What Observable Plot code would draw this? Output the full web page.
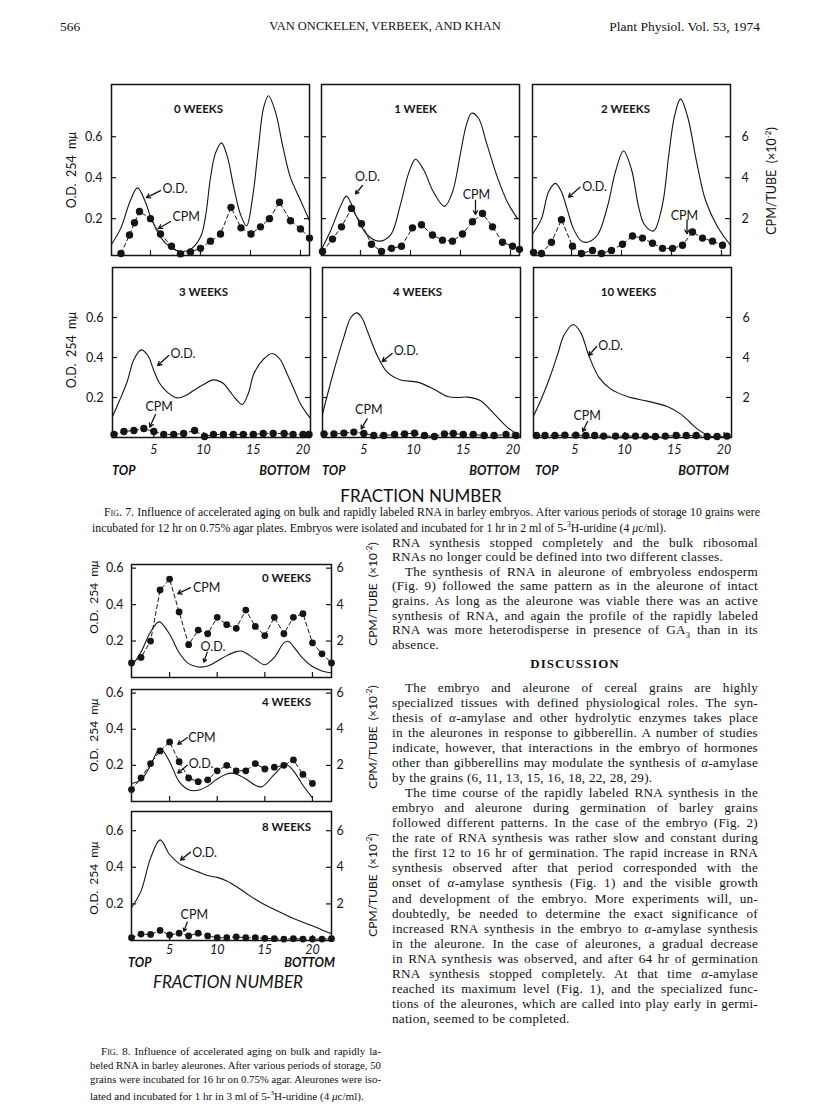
<!DOCTYPE html>
<html><head><meta charset="utf-8">
<script src="https://cdn.jsdelivr.net/npm/d3@7"></script>
<script src="https://cdn.jsdelivr.net/npm/@observablehq/plot@0.6"></script>
<style>
html,body{margin:0;padding:0;background:#fff;}
#page{position:relative;width:816px;height:1105px;overflow:hidden;background:#fff;color:#111;}
.abs{position:absolute;white-space:nowrap;}
.serif{font-family:"Liberation Serif","Times New Roman",serif;}
.body{letter-spacing:0.25px;}
.fig{font-family:Lato,"DejaVu Sans",sans-serif;}
.sc{font-variant:small-caps;}
</style></head><body><div id="page"></div><script>
// ================= DATA =================
// Fig. 7 (embryos) — O.D. 254 curves (fraction, O.D.) and CPM/tube (×10^-2) points
const f7Titles = ["0 WEEKS", "1 WEEK", "2 WEEKS", "3 WEEKS", "4 WEEKS", "10 WEEKS"];
const f7w0OdFrac = [1.1, 2, 3, 3.7, 4.5, 5, 6, 7, 8, 9, 10, 10.5, 11, 11.5, 12.1, 12.7, 13.3, 14, 14.6, 15.2, 15.8, 16.3, 16.8, 17.5, 18.2, 19, 20, 20.9];
const f7w0Od = [0.075, 0.15, 0.29, 0.35, 0.28, 0.21, 0.11, 0.06, 0.04, 0.05, 0.11, 0.21, 0.40, 0.52, 0.57, 0.50, 0.36, 0.22, 0.165, 0.30, 0.55, 0.74, 0.80, 0.72, 0.56, 0.40, 0.29, 0.19];
const f7w0CpmFrac = [2.05, 2.9, 3.4, 3.9, 5, 6, 7.1, 8, 9, 10, 11, 12, 13.05, 14.05, 15.05, 16, 16.9, 17.9, 19, 20, 20.9];
const f7w0Cpm = [0.3, 1.2, 1.8, 2.35, 2.0, 1.25, 0.65, 0.28, 0.37, 0.55, 0.9, 1.25, 2.55, 1.55, 1.25, 1.6, 2.0, 2.8, 1.9, 1.5, 1.05];

const f7w1OdFrac = [1.1, 2, 3, 3.6, 4.6, 5.6, 6.8, 8, 9, 9.8, 10.5, 11.3, 12.3, 13.4, 14.2, 15, 15.6, 16.1, 16.8, 17.6, 18.7, 19.7, 20.7];
const f7w1Od = [0.05, 0.14, 0.26, 0.31, 0.21, 0.125, 0.09, 0.12, 0.27, 0.42, 0.49, 0.44, 0.33, 0.26, 0.33, 0.52, 0.66, 0.715, 0.69, 0.57, 0.40, 0.28, 0.2];
const f7w1CpmFrac = [1.2, 2.2, 3.1, 4.1, 5.1, 6.1, 7.1, 8.1, 9.1, 10.2, 11.1, 12.2, 13.2, 14.2, 15.2, 16.2, 17.2, 18.2, 19.2, 20.2, 20.9];
const f7w1Cpm = [0.4, 1.0, 1.6, 2.5, 1.75, 0.75, 0.4, 0.55, 0.65, 1.55, 1.7, 1.2, 0.95, 0.9, 1.25, 1.85, 2.25, 1.6, 0.85, 0.65, 0.5];

const f7w2OdFrac = [1.1, 2, 2.7, 3.4, 4, 4.6, 5.2, 6, 6.6, 7.6, 8.6, 9.4, 10.2, 11, 11.7, 12.3, 13.2, 14.1, 14.7, 15.3, 15.9, 16.6, 17.5, 18.4, 19.6, 20.9];
const f7w2Od = [0.125, 0.2, 0.33, 0.372, 0.33, 0.24, 0.15, 0.09, 0.085, 0.12, 0.26, 0.43, 0.53, 0.44, 0.26, 0.17, 0.14, 0.27, 0.50, 0.70, 0.785, 0.70, 0.48, 0.29, 0.16, 0.07];
const f7w2CpmFrac = [1.2, 2, 3, 4, 5.1, 6, 7.1, 8, 9, 10.1, 11.1, 12.1, 13.1, 14.1, 15.1, 16.1, 17.1, 18.1, 19.1, 20.1];
const f7w2Cpm = [0.35, 0.3, 0.85, 1.95, 0.65, 0.3, 0.45, 0.3, 0.45, 0.75, 1.15, 1.05, 0.8, 0.55, 0.55, 0.7, 1.35, 1.05, 0.9, 0.7];

const f7w3OdFrac = [0.85, 1.6, 2.33, 3.0, 3.73, 4.4, 5.0, 5.6, 6.35, 7.35, 8.2, 9.0, 10.0, 11.0, 12.0, 12.7, 13.3, 13.9, 14.5, 15.05, 16.0, 16.9, 17.7, 18.4, 19.1, 19.75, 20.7];
const f7w3Od = [0.105, 0.19, 0.28, 0.39, 0.438, 0.41, 0.335, 0.27, 0.227, 0.198, 0.21, 0.235, 0.265, 0.288, 0.27, 0.227, 0.19, 0.165, 0.22, 0.318, 0.39, 0.42, 0.39, 0.318, 0.24, 0.168, 0.098];
const f7w3CpmFrac = [1, 2, 3, 4, 5, 6, 7, 8, 9.1, 10.1, 11, 12, 13, 14, 15, 16, 17, 18.1, 19, 20, 20.6];
const f7w3Cpm = [0.15, 0.3, 0.35, 0.45, 0.3, 0.15, 0.15, 0.2, 0.35, 0.05, 0.15, 0.15, 0.15, 0.15, 0.15, 0.2, 0.2, 0.2, 0.15, 0.15, 0.15];

const f7w4OdFrac = [0.85, 2.0, 3.0, 3.7, 4.34, 4.9, 5.34, 6.35, 7.35, 8.7, 10.4, 12.0, 13.4, 14.5, 15.4, 16.7, 18.1, 19.4, 20.4];
const f7w4Od = [0.117, 0.335, 0.502, 0.6, 0.623, 0.59, 0.535, 0.41, 0.327, 0.288, 0.277, 0.243, 0.205, 0.2, 0.202, 0.185, 0.118, 0.052, 0.018];
const f7w4CpmFrac = [1, 2, 3, 4, 5, 6, 7, 8.1, 9.1, 10.1, 11.1, 12.1, 13.1, 14, 15, 16, 17.1, 18.1, 19.3, 20.3];
const f7w4Cpm = [0.18, 0.18, 0.22, 0.27, 0.2, 0.1, 0.1, 0.15, 0.18, 0.22, 0.1, 0.05, 0.18, 0.2, 0.15, 0.15, 0.1, 0.1, 0.15, 0.1];

const f7w10OdFrac = [0.88, 1.7, 2.56, 3.3, 3.9, 4.84, 5.57, 6.41, 7.41, 8.59, 10.27, 12.28, 14.29, 15.62, 16.5, 17.3, 18.64, 19.3];
const f7w10Od = [0.11, 0.2, 0.31, 0.42, 0.51, 0.565, 0.527, 0.41, 0.302, 0.243, 0.205, 0.182, 0.155, 0.118, 0.08, 0.043, 0.005, 0.0];
const f7w10CpmFrac = [1.15, 2, 3, 4, 5.1, 6.1, 7, 7.9, 9.1, 10.1, 11.1, 12.1, 13.1, 14.1, 15.2, 16.2, 17.2, 18.3, 19.3, 20.3];
const f7w10Cpm = [0.1, 0.1, 0.1, 0.12, 0.12, 0.1, 0.1, 0.07, 0.07, 0.07, 0.07, 0.07, 0.05, 0.07, 0.1, 0.1, 0.1, 0.05, 0.05, 0.07];

// Fig. 8 (aleurones)
const f8Titles = ["0 WEEKS", "4 WEEKS", "8 WEEKS"];
const f8w0OdFrac = [1, 2, 3, 3.9, 5, 6, 7, 8, 9, 10, 11, 12, 12.5, 13, 14, 15, 16, 17, 17.5, 18, 19, 20, 21, 22];
const f8w0Od = [0.06, 0.14, 0.25, 0.305, 0.237, 0.136, 0.076, 0.058, 0.063, 0.09, 0.12, 0.142, 0.145, 0.135, 0.1, 0.07, 0.11, 0.19, 0.198, 0.17, 0.105, 0.06, 0.036, 0.025];
const f8w0CpmFrac = [1, 2, 3, 4, 5, 6, 7, 8, 9, 10, 11, 12, 13, 14, 15, 16, 17, 18, 19, 20, 21, 22];
const f8w0Cpm = [0.8, 1.1, 2.0, 4.8, 5.4, 3.6, 1.8, 2.6, 2.4, 3.3, 2.9, 2.7, 3.7, 2.8, 2.3, 3.3, 2.4, 3.3, 3.5, 1.9, 1.3, 0.8];

const f8w4OdFrac = [1, 2, 3, 4, 5, 6, 7, 8, 9, 10, 11, 11.5, 12, 13, 14, 14.7, 16, 17.2, 18, 19, 20];
const f8w4Od = [0.10, 0.12, 0.2, 0.295, 0.22, 0.11, 0.065, 0.062, 0.085, 0.125, 0.152, 0.157, 0.152, 0.125, 0.09, 0.082, 0.15, 0.205, 0.17, 0.09, 0.02];
const f8w4CpmFrac = [1, 2, 3, 4, 5, 6, 7, 8, 9, 10, 11, 12, 13, 14, 15, 16, 17, 18, 19, 20];
const f8w4Cpm = [0.66, 1.3, 2.1, 2.8, 3.3, 2.2, 1.3, 1.1, 1.2, 1.7, 2.0, 1.7, 1.7, 2.1, 1.8, 1.9, 2.0, 2.3, 1.5, 1.0];

const f8w8OdFrac = [1, 2, 3, 4, 5, 6, 7, 8, 9, 10, 11, 12, 13, 14, 15, 16, 17, 18, 19, 20, 21, 22];
const f8w8Od = [0.18, 0.27, 0.45, 0.55, 0.47, 0.42, 0.395, 0.375, 0.355, 0.345, 0.325, 0.295, 0.26, 0.225, 0.195, 0.17, 0.145, 0.12, 0.1, 0.08, 0.058, 0.037];
const f8w8CpmFrac = [1, 2, 3, 4, 5, 6, 7, 8, 9, 10, 11, 12, 13, 14, 15, 16, 17, 18, 19, 20, 21, 22];
const f8w8Cpm = [0.15, 0.35, 0.33, 0.55, 0.3, 0.4, 0.25, 0.4, 0.25, 0.15, 0.15, 0.2, 0.15, 0.15, 0.12, 0.1, 0.08, 0.1, 0.08, 0.08, 0.08, 0.1];

// axis ticks
const odTicks = [0.2, 0.4, 0.6];
const fracTicks = [5, 10, 15, 20];

// annotation labels (in data units: fraction, O.D.)
const f7Ann = [
  [{label:"O.D.", tx:6.2, ty:0.347, a:"start", x1:6.0, y1:0.337, x2:4.6, y2:0.303},
   {label:"CPM", tx:7.2, ty:0.206, a:"start", x1:7.0, y1:0.186, x2:5.8, y2:0.152}],
  [{label:"O.D.", tx:5.7, ty:0.402, a:"middle", x1:5.2, y1:0.362, x2:4.5, y2:0.321},
   {label:"CPM", tx:16.6, ty:0.313, a:"middle", x1:16.5, y1:0.289, x2:16.5, y2:0.22}],
  [{label:"O.D.", tx:6.07, ty:0.353, a:"start", x1:5.85, y1:0.353, x2:4.7, y2:0.305},
   {label:"CPM", tx:16.3, ty:0.215, a:"middle", x1:16.55, y1:0.194, x2:16.55, y2:0.126}],
  [{label:"O.D.", tx:6.68, ty:0.418, a:"start", x1:6.5, y1:0.41, x2:5.4, y2:0.36},
   {label:"CPM", tx:5.54, ty:0.152, a:"middle", x1:5.17, y1:0.115, x2:4.6, y2:0.052}],
  [{label:"O.D.", tx:8.0, ty:0.432, a:"start", x1:7.85, y1:0.42, x2:6.85, y2:0.38},
   {label:"CPM", tx:5.5, ty:0.138, a:"middle", x1:5.34, y1:0.093, x2:4.74, y2:0.043}],
  [{label:"O.D.", tx:7.35, ty:0.46, a:"start", x1:7.2, y1:0.455, x2:6.4, y2:0.41},
   {label:"CPM", tx:6.25, ty:0.107, a:"middle", x1:6.28, y1:0.08, x2:5.8, y2:0.03}]
];
const f8Ann = [
  [{label:"CPM", tx:7.45, ty:0.493, a:"start", x1:7.2, y1:0.493, x2:5.86, y2:0.46},
   {label:"O.D.", tx:9.56, ty:0.17, a:"middle", x1:8.95, y1:0.139, x2:8.6, y2:0.084}],
  [{label:"CPM", tx:6.95, ty:0.353, a:"start", x1:6.85, y1:0.353, x2:5.86, y2:0.317},
   {label:"O.D.", tx:7.0, ty:0.209, a:"start", x1:6.85, y1:0.2, x2:5.86, y2:0.157}],
  [{label:"O.D.", tx:7.37, ty:0.477, a:"start", x1:7.2, y1:0.483, x2:6.15, y2:0.44},
   {label:"CPM", tx:7.6, ty:0.137, a:"middle", x1:6.85, y1:0.1, x2:6.5, y2:0.05}]
];

// ================= RENDER =================
const page = document.getElementById("page");
const FIGFONT = 'Lato, "DejaVu Sans", sans-serif';
const INK = "#151515";

function zipPts(fs, vs, k = 1) { return fs.map((f, i) => ({f, v: vs[i] * k})); }

function panel(p) {
  const [x0, x1] = p.xDomain, [y0, y1] = p.yDomain;
  const dxu = (x1 - x0) * 5 / p.w, dyu = (y1 - y0) * 5 / p.h;
  const od = zipPts(p.odF, p.odV);
  const cpm = zipPts(p.cpmF, p.cpmV, 0.1);
  const marks = [
    Plot.ruleY(odTicks, {y: d => d, x1: x0, x2: x0 + dxu, stroke: INK, strokeWidth: 1.2}),
    Plot.ruleY(odTicks, {y: d => d, x1: x1 - dxu, x2: x1, stroke: INK, strokeWidth: 1.2}),
    Plot.ruleX(fracTicks, {x: d => d, y1: y0, y2: y0 + dyu, stroke: INK, strokeWidth: 1.2}),
    Plot.line(od, {x: "f", y: "v", curve: "catmull-rom", stroke: INK, strokeWidth: 1.1}),
    Plot.line(cpm, {x: "f", y: "v", stroke: INK, strokeWidth: 1, strokeDasharray: "4,3"}),
    Plot.dot(cpm, {x: "f", y: "v", r: p.r, fill: INK, stroke: "none"}),
    Plot.frame({stroke: INK, strokeWidth: 1.5}),
    Plot.text([p.title], {frameAnchor: "top", dx: p.tdx, dy: p.tdy, lineAnchor: "middle", fontSize: 11.5, fontWeight: "bold", fill: INK}),
    Plot.arrow(p.ann, {x1: "x1", y1: "y1", x2: "x2", y2: "y2", stroke: INK, strokeWidth: 1.3, headLength: 5}),
    Plot.text(p.ann.filter(d => d.a === "start"), {x: "tx", y: "ty", text: "label", textAnchor: "start", lineAnchor: "middle", fontSize: 12.5, fill: INK}),
    Plot.text(p.ann.filter(d => d.a === "middle"), {x: "tx", y: "ty", text: "label", textAnchor: "middle", lineAnchor: "middle", fontSize: 12.5, fill: INK})
  ];
  if (p.leftLabels) marks.push(Plot.axisY(odTicks, {anchor: "left", tickSize: 0, tickPadding: p.lpad, tickFormat: d => d.toFixed(1), label: null, fontSize: 12.5, fill: INK}));
  if (p.rightLabels) marks.push(Plot.axisY(odTicks, {anchor: "right", tickSize: 0, tickPadding: p.rpad, tickFormat: d => String(Math.round(d * 10)), label: null, fontSize: 12.5, fill: INK}));
  if (p.xLabels) marks.push(Plot.axisX(fracTicks, {anchor: "bottom", tickSize: 0, tickPadding: p.xpad, label: null, fontSize: 12.5, fontStyle: "italic", fill: INK}));
  const svg = Plot.plot({
    width: p.w, height: p.h, margin: 0,
    x: {domain: p.xDomain, axis: null},
    y: {domain: p.yDomain, axis: null},
    style: {overflow: "visible", fontFamily: FIGFONT, background: "transparent", color: INK},
    marks
  });
  svg.style.position = "absolute";
  svg.style.left = p.left + "px";
  svg.style.top = p.top + "px";
  page.appendChild(svg);
}

// Fig 7 panels
const f7Data = [
  [f7w0OdFrac, f7w0Od, f7w0CpmFrac, f7w0Cpm],
  [f7w1OdFrac, f7w1Od, f7w1CpmFrac, f7w1Cpm],
  [f7w2OdFrac, f7w2Od, f7w2CpmFrac, f7w2Cpm],
  [f7w3OdFrac, f7w3Od, f7w3CpmFrac, f7w3Cpm],
  [f7w4OdFrac, f7w4Od, f7w4CpmFrac, f7w4Cpm],
  [f7w10OdFrac, f7w10Od, f7w10CpmFrac, f7w10Cpm]
];
const f7Layout = [
  {left: 111, top: 84, h: 171, tdx: -12, row: 0},
  {left: 321, top: 84, h: 171, tdx: -5, row: 0},
  {left: 532, top: 84, h: 171, tdx: -6, row: 0},
  {left: 112, top: 267, h: 170, tdx: -8, row: 1},
  {left: 322, top: 267, h: 170, tdx: -4, row: 1},
  {left: 533, top: 267, h: 170, tdx: -4, row: 1}
];
f7Layout.forEach((L, i) => {
  const [odF, odV, cpmF, cpmV] = f7Data[i];
  panel({
    left: L.left, top: L.top, w: 198, h: L.h,
    xDomain: L.row === 0 ? [1.1, 20.9] : [0.85, 20.75],
    yDomain: L.row === 0 ? [0.02, 0.855] : [0, 0.85],
    odF, odV, cpmF, cpmV, r: 3.7,
    title: f7Titles[i], tdx: L.tdx, tdy: 25,
    ann: f7Ann[i],
    leftLabels: i % 3 === 0, lpad: 9,
    rightLabels: i % 3 === 2, rpad: 11,
    xLabels: L.row === 1, xpad: 8
  });
});

// Fig 8 panels
const f8Data = [
  [f8w0OdFrac, f8w0Od, f8w0CpmFrac, f8w0Cpm],
  [f8w4OdFrac, f8w4Od, f8w4CpmFrac, f8w4Cpm],
  [f8w8OdFrac, f8w8Od, f8w8CpmFrac, f8w8Cpm]
];
const f8Layout = [
  {top: 564, h: 113, ymax: 0.62, tdy: 14},
  {top: 689, h: 112, ymax: 0.62, tdy: 13},
  {top: 811, h: 129, ymax: 0.705, tdy: 16}
];
f8Layout.forEach((L, i) => {
  const [odF, odV, cpmF, cpmV] = f8Data[i];
  panel({
    left: 131, top: L.top, w: 200, h: L.h,
    xDomain: [1, 22], yDomain: [0, L.ymax],
    odF, odV, cpmF, cpmV, r: 3.4,
    title: f8Titles[i], tdx: 55, tdy: L.tdy,
    ann: f8Ann[i],
    leftLabels: true, lpad: 8, rightLabels: true, rpad: 5,
    xLabels: i === 2, xpad: 5
  });
});

// ---------- text helpers ----------
function put(html, x, yc, fs, cls, extra = {}) {
  const d = document.createElement("div");
  d.className = "abs " + cls;
  d.style.fontSize = fs + "px";
  d.style.lineHeight = Math.round(fs * 1.2) + "px";
  d.style.left = x + "px";
  d.style.top = (yc - fs * 0.62) + "px";
  d.innerHTML = html;
  Object.assign(d.style, extra);
  page.appendChild(d);
  return d;
}
function putRight(html, xr, yc, fs, cls, extra = {}) {
  const d = put(html, 0, yc, fs, cls, extra);
  d.style.left = (xr - d.getBoundingClientRect().width) + "px";
  return d;
}
function putCenter(html, xc, yc, fs, cls, extra = {}) {
  const d = put(html, 0, yc, fs, cls, extra);
  d.style.left = (xc - d.getBoundingClientRect().width / 2) + "px";
  return d;
}
function putJust(html, x, yc, w, fs, cls) {
  const d = put(html, x, yc, fs, cls);
  const nat = d.getBoundingClientRect().width;
  if (nat <= w) {
    d.style.whiteSpace = "normal";
    d.style.width = w + "px";
    d.style.textAlign = "justify";
    d.style.textAlignLast = "justify";
  } else {
    d.style.transformOrigin = "left center";
    d.style.transform = `scaleX(${w / nat})`;
  }
  return d;
}
function vlabel(html, cx, cy, fs) {
  const d = document.createElement("div");
  d.className = "abs fig";
  d.style.fontSize = fs + "px";
  d.style.left = cx + "px";
  d.style.top = cy + "px";
  d.style.transform = "translate(-50%,-50%) rotate(-90deg)";
  d.innerHTML = html;
  page.appendChild(d);
}

// header
put("566", 60, 27, 13.5, "serif");
putCenter("VAN ONCKELEN, VERBEEK, AND KHAN", 385, 27, 12.5, "serif");
putRight("Plant Physiol. Vol. 53, 1974", 760, 27, 13.5, "serif");

// Fig 7 axis labels
const odLab = "O.D.&nbsp; 254&nbsp; m<i>μ</i>";
const cpmLab = "CPM/TUBE &nbsp;(×10<sup style='font-size:8px'>-2</sup>)";
vlabel(odLab, 71, 170, 12.5);
vlabel(odLab, 71, 350, 12.5);
vlabel(cpmLab, 771, 181, 12.5);
[[112, 310], [322, 520], [535, 729]].forEach(([l, r]) => {
  put("TOP", l, 471, 12.5, "fig", {fontStyle: "italic", fontWeight: "bold"});
  putRight("BOTTOM", r, 471, 12.5, "fig", {fontStyle: "italic", fontWeight: "bold"});
});
putCenter("FRACTION NUMBER", 421, 497, 17, "fig");

// Fig 7 caption
putJust("<span class='sc'>Fig.</span> 7. Influence of accelerated aging on bulk and rapidly labeled RNA in barley embryos. After various periods of storage 10 grains were", 104, 512, 656, 11.8, "serif");
put("incubated for 12 hr on 0.75% agar plates. Embryos were isolated and incubated for 1 hr in 2 ml of 5-<sup style='font-size:7.5px'>3</sup>H-uridine (4 <i>μ</i>c/ml).", 92, 525.5, 11.8, "serif");

// Fig 8 axis labels
[[597, 594], [735, 737], [878, 885]].forEach(([yOd, yCpm]) => {
  vlabel(odLab, 93, yOd, 12);
  vlabel(cpmLab, 372, yCpm, 12);
});
put("TOP", 128, 963, 12.5, "fig", {fontStyle: "italic", fontWeight: "bold"});
putRight("BOTTOM", 335, 963, 12.5, "fig", {fontStyle: "italic", fontWeight: "bold"});
putCenter("FRACTION NUMBER", 228, 983, 17, "fig", {fontStyle: "italic"});

// Fig 8 caption
const f8cap = [
  ["<span class='sc'>Fig.</span> 8. Influence of accelerated aging on bulk and rapidly la-", 101, 1052, 280, true],
  ["beled RNA in barley aleurones. After various periods of storage, 50", 90, 1066, 291, true],
  ["grains were incubated for 16 hr on 0.75% agar. Aleurones were iso-", 90, 1080, 291, true],
  ["lated and incubated for 1 hr in 3 ml of 5-<sup style='font-size:7px'>3</sup>H-uridine (4 <i>μ</i>c/ml).", 90, 1094, 0, false]
];
f8cap.forEach(([t, x, y, w, j]) => j ? putJust(t, x, y, w, 11.1, "serif") : put(t, x, y, 11.1, "serif"));

// right column body text
const colX = 392, colW = 366, ind = 13, BFS = 13.2;
const bodyA = [
  ["RNA synthesis stopped completely and the bulk ribosomal", 0, true],
  ["RNAs no longer could be defined into two different classes.", 0, false],
  ["The synthesis of RNA in aleurone of embryoless endosperm", 1, true],
  ["(Fig. 9) followed the same pattern as in the aleurone of intact", 0, true],
  ["grains. As long as the aleurone was viable there was an active", 0, true],
  ["synthesis of RNA, and again the profile of the rapidly labeled", 0, true],
  ["RNA was more heterodisperse in presence of GA<sub style='font-size:8.5px'>3</sub> than in its", 0, true],
  ["absence.", 0, false]
];
bodyA.forEach(([t, indent, j], i) => {
  const y = 543 + i * 14.55;
  const x = colX + indent * ind, w = colW - indent * ind;
  j ? putJust(t, x, y, w, BFS, "serif body") : put(t, x, y, BFS, "serif body");
});
putCenter("DISCUSSION", 575, 664, 13, "serif", {fontWeight: "bold", letterSpacing: "1px"});
const bodyB = [
  ["The embryo and aleurone of cereal grains are highly", 1, true],
  ["specialized tissues with defined physiological roles. The syn-", 0, true],
  ["thesis of <i>α</i>-amylase and other hydrolytic enzymes takes place", 0, true],
  ["in the aleurones in response to gibberellin. A number of studies", 0, true],
  ["indicate, however, that interactions in the embryo of hormones", 0, true],
  ["other than gibberellins may modulate the synthesis of <i>α</i>-amylase", 0, true],
  ["by the grains (6, 11, 13, 15, 16, 18, 22, 28, 29).", 0, false],
  ["The time course of the rapidly labeled RNA synthesis in the", 1, true],
  ["embryo and aleurone during germination of barley grains", 0, true],
  ["followed different patterns. In the case of the embryo (Fig. 2)", 0, true],
  ["the rate of RNA synthesis was rather slow and constant during", 0, true],
  ["the first 12 to 16 hr of germination. The rapid increase in RNA", 0, true],
  ["synthesis observed after that period corresponded with the", 0, true],
  ["onset of <i>α</i>-amylase synthesis (Fig. 1) and the visible growth", 0, true],
  ["and development of the embryo. More experiments will, un-", 0, true],
  ["doubtedly, be needed to determine the exact significance of", 0, true],
  ["increased RNA synthesis in the embryo to <i>α</i>-amylase synthesis", 0, true],
  ["in the aleurone. In the case of aleurones, a gradual decrease", 0, true],
  ["in RNA synthesis was observed, and after 64 hr of germination", 0, true],
  ["RNA synthesis stopped completely. At that time <i>α</i>-amylase", 0, true],
  ["reached its maximum level (Fig. 1), and the specialized func-", 0, true],
  ["tions of the aleurones, which are called into play early in germi-", 0, true],
  ["nation, seemed to be completed.", 0, false]
];
bodyB.forEach(([t, indent, j], i) => {
  const y = 688 + i * 15.05;
  const x = colX + indent * ind, w = colW - indent * ind;
  j ? putJust(t, x, y, w, BFS, "serif body") : put(t, x, y, BFS, "serif body");
});
</script></body></html>
